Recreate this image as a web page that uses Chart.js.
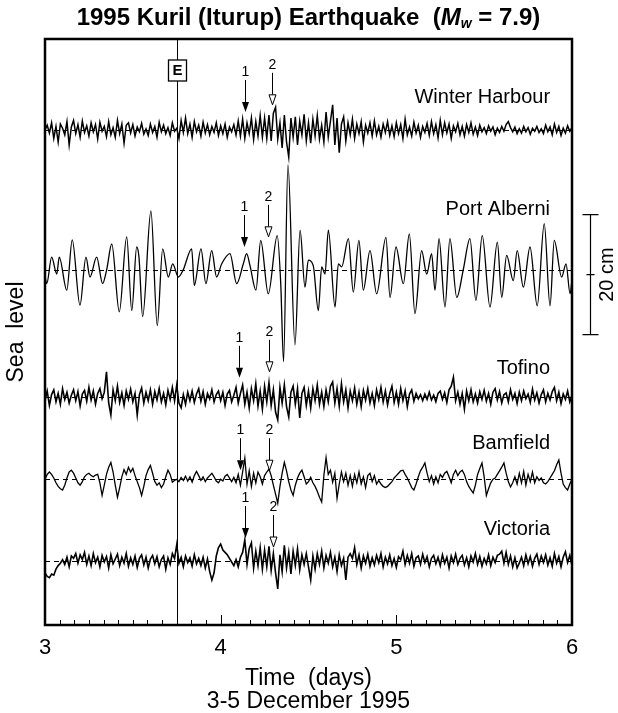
<!DOCTYPE html>
<html>
<head>
<meta charset="utf-8">
<script src="https://cdn.jsdelivr.net/npm/chart.js@4.4.1/dist/chart.umd.min.js"></script>
<style>
  html, body { margin: 0; padding: 0; background: #fff; }
  #wrap { width: 618px; height: 713px; }
</style>
</head>
<body>
<div id="wrap"><canvas id="seaChart" width="618" height="713"></canvas></div>
<script>
// tide gauge records, 3-6 December 1995, time in days
var stations = ['Winter Harbour', 'Port Alberni', 'Tofino', 'Bamfield', 'Victoria'];
var xTicks = [3, 4, 5, 6];
var quakeTime = 3.75;

// gridded records: one sample every 18 min from day 3, values in mm
var sampleStart = 3;
var sampleStep = 1 / 80;

var winterHarbour = [
  0, 8, -5, 12, -14, 6, -20, 10, 3, -8,
  14, -25, 5, 16, -6, 9, -12, 15, -4, 7,
  -10, 12, -3, 9, -15, 13, -2, 6, -11, 14,
  -8, 4, -12, 16, -6, 10, -22, 8, 12, -5,
  9, -10, 5, -3, 11, -7, 2, -9, 10, -4,
  6, -12, 13, -3, 8, -6, 4, -9, 12, -2,
  3, -14, 16, -4, 20, -6, 10, -12, 14, -3,
  8, -10, 13, -5, 9, -8, 6, -4, 12, -9,
  7, -6, 10, -12, 5, -3, 9, -8, 15, -10,
  18, -14, 12, -6, 20, -16, 14, -10, 24, -12,
  20, -14, 25, -18, 28, 38, -15, 12, -30, 25,
  -20, -45, 20, -12, 22, -25, 15, -8, 26, -18,
  12, -22, 18, -10, 24, -15, 8, -20, 30, -12,
  15, 42, -25, 20, -38, 10, 22, -18, 12, -8,
  18, -14, 10, -6, 14, -20, 8, -5, 12, -10,
  15, -8, 6, -12, 10, -4, 14, -9, 7, -11,
  12, -6, 9, -14, 18, -8, 5, -10, 13, -5,
  8, -12, 6, -4, 11, -9, 14, -6, 9, -13,
  16, -8, 12, -5, 10, -14, 7, -3, 11, -8,
  6, -10, 9, -4, 12, -7, 5, -9, 8, -3,
  4, -6, 7, -2, 5, -8, 3, -4, 6, -2,
  9, 14, 4, -3, 5, -6, 2, -5, 6, -3,
  4, -7, 3, -2, 6, -4, 2, -6, 8, -3,
  5, -8, 10, -4, 6, -9, 3, -5, 7, -2, 4
];

var tofino = [
  -6, 10, -14, 4, 12, -8, 6, -12, 14, -4,
  8, -10, 3, 12, -6, 9, -15, 5, 11, -7,
  16, -5, 10, -12, 6, 14, -3, 8, 42, -10,
  -30, 12, -6, 18, -9, 7, -14, 10, -4, 13,
  -8, 6, -30, 4, 15, -10, 8, -6, 12, -12,
  9, -5, 14, -8, 6, -13, 11, -4, 16, -6,
  20, -10, -18, 4, -12, 8, -6, 10, -9, 5,
  14, -7, 9, -12, 6, -3, 12, -8, 4, 10,
  -6, 8, -14, 5, 11, -8, 3, 16, -10, 6,
  20, -12, 8, -18, 14, -6, 22, -15, 10, -20,
  18, -8, 24, -14, 12, -25, -38, 16, -10, 20,
  -16, -33, 8, 18, -12, 14, -35, 6, 16, -14,
  10, -18, 14, -6, 20, -12, 8, -16, 12, -8,
  18, 25, -10, 14, -15, 22, -8, 12, -18, 10,
  -6, 15, -12, 8, -16, 11, -5, 14, -10, 6,
  -14, 12, -4, 16, -8, 10, -13, 6, 18, -9,
  8, -12, 14, -6, 10, -16, 5, 12, -7, 6,
  -3, 4, -6, 5, -4, 8, -5, 3, -8, 6,
  10, -4, 7, -9, 12, 18, 33, -6, 8, -12,
  6, -20, 10, -6, 12, -8, 5, -10, 9, -4,
  11, -7, 6, -12, 8, 14, -5, 9, -10, 4,
  7, -8, 12, -4, 6, -11, 8, -6, 10, -3,
  5, -9, 13, -5, 7, -10, 4, 12, -8, 6,
  -5, 9, 16, -6, 8, -11, 5, -4, 10, -8, 3
];

var bamfield = [
  0, 8, 12, 8, 2, -6, -12, -16, -18, -10,
  2, 12, 15, 10, 2, -6, -10, -4, 4, 8,
  10, 6, 4, 7, 8, -6, -27, -10, 8, 20,
  28, 12, -10, -30, -14, 4, 16, 8, 20, 12,
  18, 6, -4, -14, -27, -12, 6, 16, 23, 10,
  -4, -10, -6, -14, -8, 4, 15, 8, -5, -2,
  0, -4, 3, -2, 5, -3, 4, -5, 6, 13,
  6, -2, 4, -4, 2, 6, 10, 4, -3, -6,
  0, -3, 5, 8, 2, -4, 3, -6, 8, -10,
  12, 35, -8, 14, -12, 10, -6, 12, 4, -8,
  6, 12, 17, 6, -10, -25, -40, -12, 10, 28,
  14, -4, -18, -27, -10, 2, 10, 15, 4, -8,
  -4, 3, -6, -12, -20, -30, -38, 6, 36, 8,
  15, -5, 10, -32, -8, 12, -4, 10, -10, 6,
  -12, 8, -6, 12, -8, 4, -14, 6, 10, -4,
  6, -8, -2, -8, -12, -14, -12, -8, -4, 2,
  6, 10, 14, 15, 8, 2, -6, -14, -18, -8,
  4, 14, 20, 27, 10, -4, 6, -8, 4, -6,
  8, 3, 10, 13, 4, -6, 8, 15, 6, 12,
  15, 8, -4, -12, -18, -23, -10, 8, 18, 27,
  4, -27, -16, -6, 0, 2, 8, 14, 20, 27,
  10, -4, -13, -6, 4, -8, 10, -6, 13, -10,
  8, -4, 12, -6, 4, -2, 2, -6, -8, -4,
  2, 8, 14, 24, 32, 10, -8, -14, -18, -8, 0
];

var victoria = [
  -20, -26, -28, -22, -24, -14, -8, -4, 2, -6,
  6, -10, 8, 4, 12, -4, 10, 2, 14, -6,
  8, -8, 12, -3, 6, -10, 9, -2, 7, -12,
  10, -5, 3, 11, -8, 6, -4, 12, -9, 5,
  -6, 8, -11, 4, 10, -7, 6, -12, 3, 9,
  -5, 7, -10, 2, 8, -14, 5, -6, 12, 4,
  27, -4, 6, -10, 8, -3, 5, -9, 10, -5,
  4, -8, 6, -12, 3, -18, -32, -20, 8, 22,
  28, 18, 14, 10, 4, -2, -8, 2, -10, 6,
  14, 35, -6, 20, 30, -12, 16, -8, 22, -14,
  18, -10, 24, -16, 12, -20, -47, 10, -18, 26,
  -12, 14, -22, 16, -8, 20, -15, 10, -6, 12,
  -10, -32, 8, -14, 12, -6, 16, -12, 9, -4,
  14, -10, 6, -18, 10, -8, 4, -32, 6, 12,
  4, 22, -6, 10, -12, 8, -4, 11, -9, 5,
  -7, 9, -3, 12, -10, 6, -5, 10, -8, 4,
  -11, 7, 2, 16, -6, 9, -4, 12, -9, 5,
  8, -6, 11, -3, 7, -10, 4, 9, -5, 6,
  -8, 10, -4, 6, -12, 8, -3, 11, -6, 4,
  9, -7, 5, -10, 8, -2, 12, -6, 7, -9,
  4, -5, 10, -8, 6, -3, 9, 11, 16, -4,
  14, -6, 8, -10, 5, -12, -4, 6, -8, 10,
  -5, 7, -9, 4, 11, -6, 8, -3, 10, -7,
  5, -9, 12, -4, 7, -10, 6, 15, -3, 9, -8
];

// Port Alberni read as turning points (days, cm)
var portAlberniTimes = [
  3.000, 3.010, 3.038, 3.067, 3.081, 3.124, 3.155, 3.199, 3.233, 3.256,
  3.294, 3.328, 3.351, 3.380, 3.423, 3.465, 3.494, 3.522, 3.535, 3.556,
  3.603, 3.639, 3.670, 3.702, 3.727, 3.759, 3.787, 3.835, 3.850, 3.888,
  3.916, 3.949, 3.977, 4.006, 4.053, 4.091, 4.129, 4.148, 4.167, 4.201,
  4.228, 4.271, 4.322, 4.342, 4.358, 4.383, 4.423, 4.452, 4.480, 4.499,
  4.527, 4.556, 4.575, 4.594, 4.613, 4.651, 4.670, 4.689, 4.727, 4.755,
  4.787, 4.812, 4.850, 4.888, 4.941, 4.964, 4.998, 5.040, 5.074, 5.106,
  5.144, 5.173, 5.201, 5.220, 5.243, 5.277, 5.305, 5.344, 5.381, 5.419,
  5.453, 5.489, 5.533, 5.575, 5.600, 5.628, 5.666, 5.688, 5.723, 5.761,
  5.802, 5.842, 5.875, 5.899, 5.941, 5.966, 5.989, 6.000
];
var portAlberniLevel = [
  -1.0, -2.3, 2.1, -0.7, 2.1, -3.4, 5.0, -5.9, 2.1, -1.2,
  2.1, -2.3, 0.0, 4.3, -7.0, 5.5, -6.8, 3.8, 2.1, -7.8,
  9.8, -9.3, 3.5, -1.2, 1.0, -1.2, 0.0, 3.5, -2.6, 3.5,
  -2.3, 3.2, -1.2, 1.0, 2.7, -2.3, 1.0, 2.7, 0.7, -3.4,
  4.9, -4.0, 5.7, -2.3, -15.3, 17.5, -12.5, 6.6, -2.9, 1.6,
  0.7, -6.8, 0.5, -0.7, 6.6, -6.2, 1.0, 0.5, 5.2, -3.7,
  4.9, -3.4, 3.2, -4.0, 5.4, -4.6, 3.8, -2.3, 6.0, -7.3,
  3.2, -0.7, 2.7, -3.4, 5.2, -6.2, 5.2, -4.6, 0.0, 5.2,
  -5.1, 5.7, -6.2, 4.6, -4.6, 2.4, -1.8, 3.2, -2.9, 3.8,
  -6.0, 7.7, -6.0, 4.9, -1.2, 1.0, -4.0, -1.7
];

// wave arrival markers (days), per station
var arrival1 = [4.138, 4.133, 4.104, 4.110, 4.138];
var arrival2 = [4.292, 4.269, 4.275, 4.275, 4.298];

// layout of the stacked records (cm above the bottom of the frame)
var traceOffset = [82.5, 59.2, 38.0, 24.3, 10.7];
var labelLift = [5.5, 10.0, 4.8, 6.0, 5.2];
var arrowLift1 = [3.0, 3.8, 3.2, 1.5, 3.8];
var arrowLift2 = [4.2, 5.5, 4.2, 1.5, 2.3];
var yTop = 97.67;

var FONT = '"Liberation Sans", Arial, Helvetica, sans-serif';

function gridSeries(mm, offset) {
  return mm.map(function (v, i) {
    return { x: sampleStart + i * sampleStep, y: offset + v / 10 };
  });
}

function pairSeries(times, cm, offset) {
  return times.map(function (t, i) {
    return { x: t, y: offset + cm[i] };
  });
}

var datasets = [
  { label: stations[0], data: gridSeries(winterHarbour, traceOffset[0]), borderWidth: 1.5 },
  { label: stations[1], data: pairSeries(portAlberniTimes, portAlberniLevel, traceOffset[1]), cubicInterpolationMode: 'monotone', borderWidth: 1.3 },
  { label: stations[2], data: gridSeries(tofino, traceOffset[2]), borderWidth: 1.6 },
  { label: stations[3], data: gridSeries(bamfield, traceOffset[3]), borderWidth: 1.3 },
  { label: stations[4], data: gridSeries(victoria, traceOffset[4]), borderWidth: 1.6 }
];

function drawArrow(ctx, x, tipY, label, filled) {
  var shaft = 32, headH = 10, headW = 3.5;
  ctx.beginPath();
  ctx.moveTo(x, tipY - shaft);
  ctx.lineTo(x, tipY - headH);
  ctx.stroke();
  ctx.beginPath();
  ctx.moveTo(x - headW, tipY - headH);
  ctx.lineTo(x + headW, tipY - headH);
  ctx.lineTo(x, tipY);
  ctx.closePath();
  if (filled) {
    ctx.fillStyle = '#000';
    ctx.fill();
  } else {
    ctx.fillStyle = '#fff';
    ctx.fill();
    ctx.stroke();
  }
  ctx.fillStyle = '#000';
  ctx.fillText(label, x, tipY - shaft - 8);
}

var overlay = {
  id: 'overlay',
  beforeDatasetsDraw: function (chart) {
    var ctx = chart.ctx, a = chart.chartArea, ys = chart.scales.y;
    ctx.save();
    ctx.strokeStyle = '#000';
    ctx.lineWidth = 1;
    ctx.setLineDash([5, 4]);
    traceOffset.forEach(function (o) {
      var py = Math.round(ys.getPixelForValue(o)) + 0.5;
      ctx.beginPath();
      ctx.moveTo(a.left, py);
      ctx.lineTo(a.right, py);
      ctx.stroke();
    });
    ctx.restore();
  },
  afterDraw: function (chart) {
    var ctx = chart.ctx, a = chart.chartArea;
    var xs = chart.scales.x, ys = chart.scales.y;
    ctx.save();
    ctx.strokeStyle = '#000';
    ctx.fillStyle = '#000';

    // earthquake time line and box
    var ex = Math.round(xs.getPixelForValue(quakeTime)) + 0.5;
    ctx.lineWidth = 1;
    ctx.beginPath();
    ctx.moveTo(ex, a.top);
    ctx.lineTo(ex, a.bottom);
    ctx.stroke();
    ctx.fillStyle = '#fff';
    ctx.fillRect(ex - 9, a.top + 21, 18, 21);
    ctx.lineWidth = 1.3;
    ctx.strokeRect(ex - 9, a.top + 21, 18, 21);
    ctx.fillStyle = '#000';
    ctx.font = 'bold 15px ' + FONT;
    ctx.textAlign = 'center';
    ctx.textBaseline = 'middle';
    ctx.fillText('E', ex, a.top + 32);

    // bottom ticks every 2 hours, pointing inward
    ctx.lineWidth = 1;
    for (var k = 0; k <= 36; k++) {
      var tx = Math.round(xs.getPixelForValue(3 + k / 12)) + 0.5;
      var len = (k % 12 === 0) ? 10 : 5;
      ctx.beginPath();
      ctx.moveTo(tx, a.bottom);
      ctx.lineTo(tx, a.bottom - len);
      ctx.stroke();
    }

    // station names and arrival arrows
    stations.forEach(function (name, s) {
      ctx.font = '20px ' + FONT;
      ctx.textAlign = 'right';
      ctx.textBaseline = 'middle';
      ctx.fillStyle = '#000';
      ctx.fillText(name, xs.getPixelForValue(5.875), ys.getPixelForValue(traceOffset[s] + labelLift[s]));
      ctx.font = '14px ' + FONT;
      ctx.textAlign = 'center';
      ctx.lineWidth = 1;
      drawArrow(ctx, Math.round(xs.getPixelForValue(arrival1[s])) + 0.5,
        ys.getPixelForValue(traceOffset[s] + arrowLift1[s]), '1', true);
      drawArrow(ctx, Math.round(xs.getPixelForValue(arrival2[s])) + 0.5,
        ys.getPixelForValue(traceOffset[s] + arrowLift2[s]), '2', false);
    });

    // frame
    ctx.lineWidth = 2.5;
    ctx.strokeRect(a.left, a.top, a.right - a.left, a.bottom - a.top);

    // 20 cm scale bar beside Port Alberni
    var bx = a.right + 18.5;
    var mid = traceOffset[1] - 0.8;
    var b1 = ys.getPixelForValue(mid + 10), b2 = ys.getPixelForValue(mid - 10), bm = ys.getPixelForValue(mid);
    ctx.lineWidth = 1.2;
    ctx.beginPath();
    ctx.moveTo(bx, b1); ctx.lineTo(bx, b2);
    ctx.moveTo(bx - 8, b1); ctx.lineTo(bx + 8, b1);
    ctx.moveTo(bx - 8, b2); ctx.lineTo(bx + 8, b2);
    ctx.moveTo(bx - 4, bm); ctx.lineTo(bx + 4, bm);
    ctx.stroke();
    ctx.save();
    ctx.translate(607, bm);
    ctx.rotate(-Math.PI / 2);
    ctx.font = '20px ' + FONT;
    ctx.textAlign = 'center';
    ctx.textBaseline = 'middle';
    ctx.fillText('20 cm', 0, 0);
    ctx.restore();

    // title with italic M and subscript w
    var parts = [
      ['1995 Kuril (Iturup) Earthquake  (', 'bold 24px ' + FONT, 0],
      ['M', 'italic bold 24px ' + FONT, 0],
      ['w', 'italic bold 14px ' + FONT, 6],
      [' = 7.9)', 'bold 24px ' + FONT, 0]
    ];
    var total = 0;
    parts.forEach(function (p) { ctx.font = p[1]; total += ctx.measureText(p[0]).width; });
    var cx = (a.left + a.right) / 2 - total / 2;
    ctx.textAlign = 'left';
    ctx.textBaseline = 'middle';
    parts.forEach(function (p) {
      ctx.font = p[1];
      ctx.fillText(p[0], cx, 18 + p[2]);
      cx += ctx.measureText(p[0]).width;
    });
    ctx.restore();
  }
};

new Chart(document.getElementById('seaChart').getContext('2d'), {
  type: 'line',
  data: { datasets: datasets },
  options: {
    responsive: false,
    animation: false,
    layout: { padding: { top: 39, right: 46, left: 0, bottom: 0 } },
    elements: {
      point: { radius: 0 },
      line: { borderWidth: 1.2, borderColor: '#000', tension: 0, fill: false }
    },
    plugins: {
      legend: { display: false },
      title: { display: false },
      tooltip: { enabled: false }
    },
    scales: {
      x: {
        type: 'linear',
        min: 3,
        max: 6,
        afterBuildTicks: function (scale) {
          scale.ticks = xTicks.map(function (v) { return { value: v }; });
        },
        afterFit: function (scale) { scale.height = 88; },
        grid: { display: false, drawTicks: false },
        border: { display: false },
        ticks: {
          color: '#000',
          autoSkip: false,
          maxRotation: 0,
          padding: 10,
          font: { family: FONT, size: 22 }
        },
        title: {
          display: true,
          text: ['Time  (days)', '3-5 December 1995'],
          color: '#000',
          font: { family: FONT, size: 23, lineHeight: 1 },
          padding: { top: 0, bottom: 0 }
        }
      },
      y: {
        type: 'linear',
        min: 0,
        max: yTop,
        afterFit: function (scale) { scale.width = 45; },
        grid: { display: false, drawTicks: false },
        border: { display: false },
        ticks: { display: false },
        title: {
          display: true,
          text: 'Sea  level',
          color: '#000',
          font: { family: FONT, size: 23 },
          padding: { top: 3, bottom: 0 }
        }
      }
    }
  },
  plugins: [overlay]
});
</script>
</body>
</html>
